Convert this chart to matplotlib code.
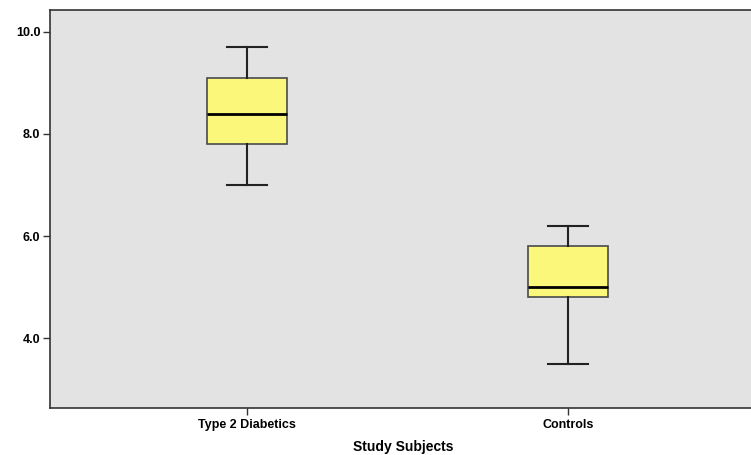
import matplotlib
matplotlib.use("Agg")
import matplotlib.pyplot as plt

# box stats (SPSS style boxplot)
groups = ["Type 2 Diabetics", "Controls"]
whisker_low = [7.0, 3.5]
q1 = [7.8, 4.8]
median = [8.4, 5.0]
q3 = [9.1, 5.8]
whisker_high = [9.7, 6.2]
yticks = [4.0, 6.0, 8.0, 10.0]

BG = "#e3e3e3"
FILL = "#faf77a"

plt.rcParams["font.family"] = ["Liberation Sans", "DejaVu Sans"]

fig = plt.figure(figsize=(7.51, 4.55), dpi=100)
ax = fig.add_axes([50 / 751, 47 / 455, 706 / 751, 398 / 455])
ax.set_facecolor(BG)

stats = []
for i, g in enumerate(groups):
    stats.append({"label": g, "whislo": whisker_low[i], "q1": q1[i],
                  "med": median[i], "q3": q3[i], "whishi": whisker_high[i],
                  "fliers": []})

ax.bxp(stats, positions=[1, 2], widths=0.25, capwidths=0.125,
       patch_artist=True, showfliers=False,
       boxprops={"facecolor": FILL, "edgecolor": "#4a4a4a", "linewidth": 1.2},
       medianprops={"color": "black", "linewidth": 2},
       whiskerprops={"color": "#222222", "linewidth": 1.5},
       capprops={"color": "#222222", "linewidth": 1.5})

ax.set_xlim(1 - 197 / 320, 2 + 188 / 320)
ax.set_ylim(2.63, 10.43)
ax.set_yticks(yticks)
ax.set_yticklabels([f"{v:.1f}" for v in yticks])
ax.set_xticks([1, 2])
ax.set_xticklabels(groups)

for s in ax.spines.values():
    s.set_color("#333333")
    s.set_linewidth(1.2)

ax.tick_params(axis="both", length=5, width=1, color="#333333",
               labelsize=9, pad=2)
ax.tick_params(axis="x", pad=3)
for lab in ax.get_xticklabels() + ax.get_yticklabels():
    lab.set_fontweight("bold")

ax.set_xlabel("Study Subjects", fontsize=10, fontweight="bold")
ax.xaxis.set_label_coords(0.5, -0.08)

fig.savefig("out.png", dpi=100)
